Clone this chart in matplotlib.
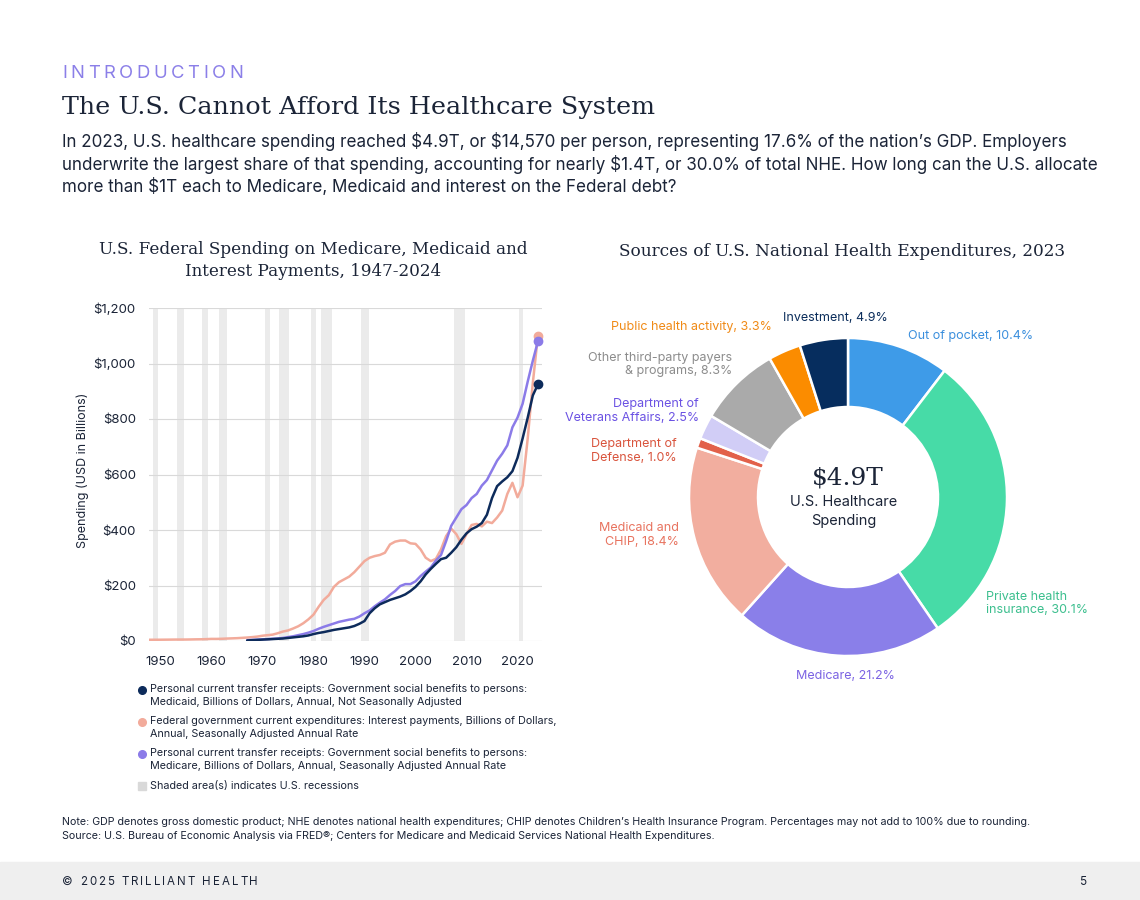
import matplotlib
matplotlib.use("Agg")
import matplotlib.pyplot as plt
from matplotlib.font_manager import FontProperties
from matplotlib.lines import Line2D
from matplotlib.patches import Rectangle

plt.rcParams['font.family'] = ['Inter', 'DejaVu Sans']
plt.rcParams['text.parse_math'] = False

# ---------------- data ----------------
interest_years = list(range(1947, 2025))
interest_vals = [4.2, 4.4, 4.5, 4.6, 4.8, 5.0, 5.2, 5.2, 5.3, 5.6,
                 6.0, 6.2, 6.8, 7.6, 7.5, 8.0, 8.8, 9.5, 10.2, 11.3,
                 12.5, 14, 16, 19, 21, 23, 28, 34, 38, 45,
                 53, 64, 78, 95, 123, 148, 165, 195, 212, 222,
                 232, 248, 268, 288, 300, 306, 310, 318, 348, 358,
                 362, 362, 352, 350, 330, 300, 288, 296, 330, 378,
                 405, 385, 350, 385, 418, 422, 413, 430, 425, 445,
                 470, 530, 570, 518, 560, 730, 930, 1100]

health_years = list(range(1967, 2025))
medicare_vals = [3, 4, 5, 6, 7, 8, 9, 11, 14, 17,
                 21, 25, 30, 36, 44, 51, 57, 63, 69, 73,
                 77, 80, 88, 100, 110, 125, 138, 150, 166, 180,
                 198, 205, 205, 215, 234, 250, 265, 290, 310, 360,
                 415, 445, 475, 490, 515, 530, 560, 580, 615, 650,
                 675, 705, 770, 805, 855, 935, 1010, 1080]
medicaid_vals = [2, 3, 4, 5, 6, 7, 8, 9, 11, 13,
                 15, 17, 20, 25, 29, 32, 36, 40, 43, 46,
                 49, 54, 62, 72, 100, 118, 132, 140, 148, 154,
                 160, 168, 180, 195, 215, 240, 260, 278, 295, 300,
                 318, 338, 365, 388, 403, 412, 425, 455, 515, 558,
                 575, 590, 612, 660, 730, 805, 885, 925]

recession_starts = [1948.5, 1953.3, 1958.2, 1961.5, 1970.55, 1973.3, 1979.55, 1981.5, 1989.35, 2007.6, 2020.2]
recession_ends = [1949.6, 1954.6, 1959.3, 1963.1, 1971.4, 1975.15, 1980.5, 1983.65, 1990.9, 2009.8, 2021.05]

y_ticks = [0, 200, 400, 600, 800, 1000, 1200]
y_tick_labels = ['$0', '$200', '$400', '$600', '$800', '$1,000', '$1,200']
x_ticks = [1950, 1960, 1970, 1980, 1990, 2000, 2010, 2020]
x_tick_labels = ['1950', '1960', '1970', '1980', '1990', '2000', '2010', '2020']

legend_labels = [
    "Personal current transfer receipts: Government social benefits to persons:\nMedicaid, Billions of Dollars, Annual, Not Seasonally Adjusted",
    "Federal government current expenditures: Interest payments, Billions of Dollars,\nAnnual, Seasonally Adjusted Annual Rate",
    "Personal current transfer receipts: Government social benefits to persons:\nMedicare, Billions of Dollars, Annual, Seasonally Adjusted Annual Rate",
]

nhe_labels = ['Out of pocket', 'Private health insurance', 'Medicare', 'Medicaid and CHIP',
              'Department of Defense', 'Department of Veterans Affairs',
              'Other third-party payers & programs', 'Public health activity', 'Investment']
nhe_shares = [10.4, 30.1, 21.2, 18.4, 1.0, 2.5, 8.3, 3.3, 4.9]
nhe_display = ['Out of pocket, 10.4%', 'Private health\ninsurance, 30.1%', 'Medicare, 21.2%',
               'Medicaid and\nCHIP, 18.4%', 'Department of\nDefense, 1.0%',
               'Department of\nVeterans Affairs, 2.5%', 'Other third-party payers\n& programs, 8.3%',
               'Public health activity, 3.3%', 'Investment, 4.9%']

# ---------------- styling ----------------
W, H = 1140, 900
DARK = '#1b2437'
NAVY = '#0d2b5b'
PINK = '#f2ab9b'
PURPLE = '#8b7be8'
REC = '#ebebeb'
SERIF = ['DejaVu Serif']
SANS = ['Inter', 'DejaVu Sans']

seg_colors = ['#3e9be8', '#47dba7', '#8a7fe9', '#f2ae9f', '#e2614a', '#d1cdf6', '#aaaaaa', '#fb8c00', '#062d5e']
lbl_colors = ['#3b8fdd', '#3cbf8e', '#7b63e3', '#e8735f', '#d9543d', '#6b52e3', '#8c8c8c', '#f08a16', '#0b2d5b']

fig = plt.figure(figsize=(W / 100, H / 100), dpi=100)
renderer = fig.canvas.get_renderer()


def fx(x):
    return x / W


def fy(y):
    return 1 - y / H


def ftext(x, y, s, target_w=None, **kw):
    t = fig.text(fx(x), fy(y), s, **kw)
    if target_w:
        w = t.get_window_extent(renderer).width
        t.set_fontsize(t.get_fontsize() * target_w / w)
    return t


def spaced(x, y, s, size, target_w, color, family):
    fp = FontProperties(family=family, size=size)

    def wd(txt):
        return renderer.get_text_width_height_descent(txt, fp, ismath=False)[0]
    base = wd('|')
    pos = [0 if i == 0 else wd(s[:i] + '|') - base for i in range(len(s))]
    track = (target_w - wd(s)) / (len(s) - 1)
    for i, ch in enumerate(s):
        if ch == ' ':
            continue
        fig.text(fx(x + pos[i] + i * track), fy(y), ch, fontproperties=fp, color=color, va='baseline')


# ---------------- header ----------------
spaced(62, 78, 'INTRODUCTION', 13.3, 181, '#8b7fe8', SANS)
ftext(62, 114, 'The U.S. Cannot Afford Its Healthcare System', target_w=593,
      family=SERIF, fontsize=21, color=DARK, va='baseline')
body = ["In 2023, U.S. healthcare spending reached $4.9T, or $14,570 per person, representing 17.6% of the nation\u2019s GDP. Employers",
        "underwrite the largest share of that spending, accounting for nearly $1.4T, or 30.0% of total NHE. How long can the U.S. allocate",
        "more than $1T each to Medicare, Medicaid and interest on the Federal debt?"]
t0 = ftext(62, 147, body[0], target_w=1006, fontsize=12.5, color=DARK, va='baseline')
bsize = t0.get_fontsize()
ftext(62, 170, body[1], fontsize=bsize, color=DARK, va='baseline')
ftext(62, 192, body[2], fontsize=bsize, color=DARK, va='baseline')

# ---------------- line chart ----------------
ax = fig.add_axes([fx(149), fy(641), (542 - 149) / W, (641 - 308) / H])
for s, e in zip(recession_starts, recession_ends):
    ax.axvspan(s, e, color=REC, lw=0, zorder=0)
ax.plot(interest_years, interest_vals, color=PINK, lw=1.8, zorder=3, solid_capstyle='round')
ax.plot(health_years, medicare_vals, color=PURPLE, lw=1.8, zorder=4, solid_capstyle='round')
ax.plot(health_years, medicaid_vals, color=NAVY, lw=1.8, zorder=5, solid_capstyle='round')
ax.plot([interest_years[-1]], [interest_vals[-1]], 'o', color=PINK, ms=6, zorder=6, clip_on=False)
ax.plot([health_years[-1]], [medicare_vals[-1]], 'o', color=PURPLE, ms=6, zorder=6, clip_on=False)
ax.plot([health_years[-1]], [medicaid_vals[-1]], 'o', color=NAVY, ms=6, zorder=6, clip_on=False)
ax.set_xlim(1947.75, 2024.8)
ax.set_ylim(0, 1200)
ax.set_yticks(y_ticks)
ax.set_yticklabels(y_tick_labels)
ax.set_xticks(x_ticks)
ax.set_xticklabels(x_tick_labels)
ax.tick_params(axis='both', length=0, labelsize=9.5, colors=DARK)
ax.tick_params(axis='y', pad=9.5)
ax.tick_params(axis='x', pad=10.5)
ax.grid(axis='y', color='#d9d9d9', lw=0.8, zorder=1)
ax.set_axisbelow(True)
for sp in ax.spines.values():
    sp.set_visible(False)

ftext(83, 470, 'Spending (USD in Billions)', fontsize=9, color=DARK, rotation=90, ha='center', va='center')

ct = ftext(313, 250, 'U.S. Federal Spending on Medicare, Medicaid and', target_w=430,
           family=SERIF, fontsize=12.5, color=DARK, ha='center', va='center')
ftext(313, 272, 'Interest Payments, 1947-2024', family=SERIF, fontsize=ct.get_fontsize(),
      color=DARK, ha='center', va='center')

# legend
leg_colors = [NAVY, PINK, PURPLE]
leg_y = [690, 722, 754]
for c, lab, yy in zip(leg_colors, legend_labels, leg_y):
    fig.add_artist(Line2D([fx(142)], [fy(yy)], marker='o', ms=5.5, color=c, transform=fig.transFigure))
    ftext(150, yy - 6, lab, fontsize=7.75, color=DARK, va='top', linespacing=1.38)
fig.add_artist(Rectangle((fx(138), fy(790)), 8 / W, 8 / H, color='#d9d9d9', transform=fig.transFigure))
ftext(150, 786, 'Shaded area(s) indicates U.S. recessions', fontsize=7.75, color=DARK, va='center')

# ---------------- donut ----------------
cx, cy, R = 848, 497, 159
half = 170
pax = fig.add_axes([fx(cx - half), fy(cy + half), 2 * half / W, 2 * half / H])
lim = half / R
pax.pie(nhe_shares, colors=seg_colors, startangle=90, counterclock=False, radius=1,
        wedgeprops=dict(width=0.434, edgecolor='white', linewidth=1.8))
pax.set_xlim(-lim, lim)
pax.set_ylim(-lim, lim)
pax.set_aspect('equal')
pax.axis('off')

ftext(842, 251, 'Sources of U.S. National Health Expenditures, 2023', target_w=445,
      family=SERIF, fontsize=12.5, color=DARK, ha='center', va='center')

ftext(848, 478, '$4.9T', target_w=72, family=SERIF, fontsize=17, color=DARK, ha='center', va='center')
ht = ftext(844, 502, 'U.S. Healthcare', target_w=107, fontsize=10.5, color=DARK, ha='center', va='center')
ftext(844, 521, 'Spending', fontsize=ht.get_fontsize(), color=DARK, ha='center', va='center')

# label placements (pixel anchors)
lbl_pos = [(908, 336, 'left'), (986, 603.5, 'left'), (845, 676, 'center'), (679, 535, 'right'),
           (677, 451, 'right'), (699, 411, 'right'), (732, 364.5, 'right'), (772, 327, 'right'),
           (835, 318, 'center')]
ref = ftext(0, -100, 'Out of pocket, 10.4%', target_w=125, fontsize=9.5)
lsize = ref.get_fontsize()
ref.remove()
for txt, col, (x, y, ha) in zip(nhe_display, lbl_colors, lbl_pos):
    ftext(x, y, txt, fontsize=lsize, color=col, ha=ha, va='center', multialignment=ha, linespacing=1.2)

# ---------------- footnotes & footer ----------------
fn = ftext(62, 822, 'Note: GDP denotes gross domestic product; NHE denotes national health expenditures; CHIP denotes Children\u2019s Health Insurance Program. Percentages may not add to 100% due to rounding.',
           target_w=972, fontsize=8, color=DARK, va='center')
ftext(62, 836, 'Source: U.S. Bureau of Economic Analysis via FRED\u00ae; Centers for Medicare and Medicaid Services National Health Expenditures.',
      fontsize=fn.get_fontsize(), color=DARK, va='center')

fig.add_artist(Rectangle((0, 0), 1, (900 - 862) / H, color='#efefef', transform=fig.transFigure, zorder=-1))
spaced(62, 885, '\u00a9 2025 TRILLIANT HEALTH', 8.3, 196, DARK, SANS)
ftext(1086, 885, '5', fontsize=8.5, color=DARK, ha='right', va='baseline')

fig.savefig('out.png', dpi=100, facecolor='white')
